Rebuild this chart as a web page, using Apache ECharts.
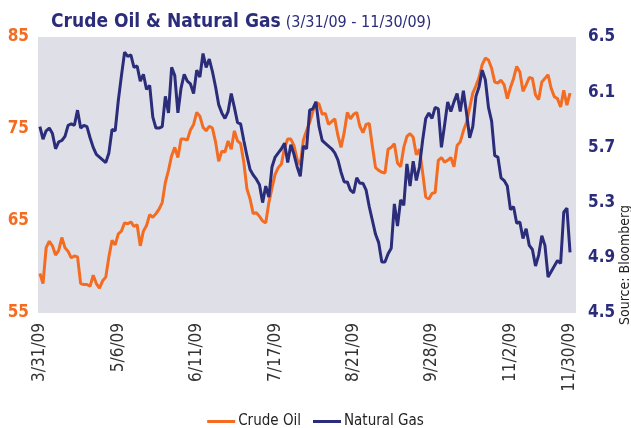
<!DOCTYPE html>
<html>
<head>
<meta charset="utf-8">
<script src="https://cdn.jsdelivr.net/npm/echarts@6/dist/echarts.min.js"></script>
<style>
  html, body { margin: 0; padding: 0; background: #fff; }
  #chart { width: 631px; height: 428px; }
</style>
</head>
<body>
<div id="chart"></div>
<script>
// daily closes, 3/31/09 .. 11/30/09 (trading days)
const crudeOil = [
  59.3, 58.2, 62.1, 62.8, 62.3, 61.3, 61.8, 63.2, 62.1, 61.7,
  61.0, 61.2, 61.1, 58.2, 58.1, 58.1, 57.9, 59.1, 58.2, 57.7,
  58.5, 58.9, 61.1, 62.9, 62.4, 63.6, 63.9, 64.8, 64.7, 64.9,
  64.4, 64.6, 62.3, 63.9, 64.5,
  65.7, 65.4, 65.8, 66.3, 67.0, 69.2, 70.5, 72.1, 73.0, 71.9,
  73.9, 73.9, 73.8, 74.9, 75.5, 76.8, 76.4, 75.2, 74.8, 75.3,
  75.1, 73.6, 71.5, 72.6, 72.5, 73.7, 72.8, 74.8, 73.7, 73.4,
  71.4, 68.5, 67.4, 65.8,
  65.9, 65.5, 65.0, 64.8, 67.0, 68.6, 70.1, 70.8, 71.2, 73.0,
  73.9, 73.9, 73.2, 71.7, 71.1, 73.8, 74.8, 75.7, 76.9, 77.9,
  77.7, 76.6, 76.7, 75.5, 75.8, 76.1, 74.3, 73.0, 74.6, 76.8,
  76.1, 76.6, 76.8, 75.3,
  74.6, 75.5, 75.6, 73.1, 70.8, 70.5, 70.3, 70.2, 72.8, 73.0,
  73.4, 71.3, 70.9, 73.0, 74.2, 74.5, 74.1, 72.2, 72.8, 70.3,
  67.6, 67.4, 68.0, 68.1, 71.6, 71.9, 71.4, 71.6, 71.9, 70.9,
  73.2, 73.6, 74.8, 75.7, 77.3,
  78.9, 79.7, 80.6, 82.0, 82.7, 82.5, 81.6, 80.1, 80.0, 80.3,
  79.8, 78.3, 79.5, 80.5, 81.8, 81.2, 79.1, 79.8, 80.6, 80.5,
  78.7, 78.2, 80.1, 80.5, 80.9, 79.4, 78.5, 78.3, 77.4, 79.2,
  77.6, 78.9
];
const naturalGas = [
  5.85, 5.76, 5.82, 5.84, 5.80, 5.69, 5.74, 5.75, 5.78, 5.86,
  5.87, 5.86, 5.97, 5.84, 5.86, 5.85, 5.77, 5.70, 5.65, 5.63,
  5.61, 5.59, 5.66, 5.83, 5.82, 6.04, 6.22, 6.39, 6.36, 6.37,
  6.28, 6.29, 6.18, 6.23, 6.12,
  6.15, 5.92, 5.84, 5.84, 5.85, 6.07, 5.95, 6.28, 6.22, 5.95,
  6.13, 6.23, 6.18, 6.16, 6.09, 6.26, 6.21, 6.38, 6.28, 6.34,
  6.25, 6.14, 6.01, 5.95, 5.91, 5.96, 6.09, 5.99, 5.88, 5.87,
  5.75, 5.64, 5.54, 5.50,
  5.47, 5.43, 5.30, 5.42, 5.34, 5.56, 5.63, 5.66, 5.69, 5.73,
  5.59, 5.72, 5.65, 5.56, 5.49, 5.71, 5.69, 5.97, 5.98, 6.03,
  5.85, 5.75, 5.73, 5.71, 5.69, 5.66, 5.61, 5.52, 5.45, 5.45,
  5.39, 5.37, 5.48, 5.44,
  5.44, 5.39, 5.27, 5.17, 5.07, 5.01, 4.87, 4.87, 4.93, 4.97,
  5.29, 5.13, 5.32, 5.28, 5.58, 5.42, 5.60, 5.46, 5.56, 5.75,
  5.91, 5.95, 5.91, 5.99, 5.98, 5.70, 5.86, 6.03, 5.96, 6.03,
  6.09, 5.96, 6.11, 5.95, 5.77,
  5.85, 6.07, 6.14, 6.26, 6.19, 5.99, 5.89, 5.64, 5.63, 5.48,
  5.46, 5.42, 5.25, 5.27, 5.15, 5.16, 5.04, 5.11, 4.99, 4.96,
  4.84, 4.92, 5.06, 4.99, 4.76, 4.80, 4.84, 4.88, 4.86, 5.23,
  5.26, 4.94
];
// x tick labels and the trading-day index they sit on
const dateLabels = ['3/31/09', '5/6/09', '6/11/09', '7/17/09', '8/21/09', '9/28/09', '11/2/09', '11/30/09'];
const dateIdx = [0, 25, 50, 75, 100, 125, 150, 169];
const oilTicks = [55, 65, 75, 85];
const gasTicks = [4.5, 4.9, 5.3, 5.7, 6.1, 6.5];

const ORANGE = '#f36c21';
const NAVY = '#2b2c7a';
const FONT = '"Liberation Sans Narrow", "DejaVu Sans Condensed", "Liberation Sans", sans-serif';

const chart = echarts.init(document.getElementById('chart'));
chart.setOption({
  animation: false,
  backgroundColor: '#fff',
  title: {
    left: 46,
    top: 8,
    text: '{a|Crude Oil & Natural Gas} {b|(3/31/09 - 11/30/09)}',
    textStyle: {
      rich: {
        a: { fontFamily: FONT, fontSize: 19, color: NAVY, fontWeight: 'bold' },
        b: { fontFamily: FONT, fontSize: 16, color: NAVY, fontWeight: 'normal', verticalAlign: 'bottom', padding: [0, 0, 1, 0] }
      }
    }
  },
  legend: {
    top: 409,
    left: 'center',
    icon: 'rect',
    itemWidth: 28,
    itemHeight: 3,
    itemGap: 12,
    textStyle: { fontFamily: FONT, fontSize: 15, color: '#222', padding: [0, 0, 0, -2] },
    data: ['Crude Oil', 'Natural Gas']
  },
  grid: {
    left: 38, right: 55, top: 37, bottom: 115,
    show: true, backgroundColor: '#dfe0e7', borderWidth: 0
  },
  xAxis: {
    type: 'value',
    min: -0.6,
    max: 170.9,
    axisLine: { show: false },
    axisTick: { show: false },
    splitLine: { show: false },
    axisLabel: {
      customValues: dateIdx,
      formatter: (v) => dateLabels[dateIdx.indexOf(v)],
      rotate: 90,
      margin: 10,
      fontFamily: FONT,
      fontSize: 17,
      color: '#333'
    }
  },
  yAxis: [
    {
      type: 'value',
      min: 55, max: 85, interval: 10,
      axisLine: { show: false },
      axisTick: { show: false },
      splitLine: { show: false },
      axisLabel: {
        customValues: oilTicks,
        margin: 9,
        fontFamily: FONT, fontSize: 17, fontWeight: 'bold', color: ORANGE
      }
    },
    {
      type: 'value',
      min: 4.5, max: 6.5, interval: 0.4,
      axisLine: { show: false },
      axisTick: { show: false },
      splitLine: { show: false },
      axisLabel: {
        customValues: gasTicks,
        formatter: (v) => v.toFixed(1),
        margin: 12,
        fontFamily: FONT, fontSize: 17, fontWeight: 'bold', color: NAVY
      }
    }
  ],
  graphic: [{
    type: 'text',
    x: 625,
    y: 265,
    rotation: Math.PI / 2,
    style: {
      text: 'Source: Bloomberg',
      font: '14px ' + FONT,
      fill: '#222',
      align: 'center',
      verticalAlign: 'middle'
    }
  }],
  series: [
    {
      name: 'Crude Oil',
      type: 'line',
      yAxisIndex: 0,
      symbol: 'none',
      color: ORANGE,
      lineStyle: { width: 3, color: ORANGE },
      data: crudeOil.map((v, i) => [i, v])
    },
    {
      name: 'Natural Gas',
      type: 'line',
      yAxisIndex: 1,
      symbol: 'none',
      color: NAVY,
      lineStyle: { width: 3, color: NAVY },
      data: naturalGas.map((v, i) => [i, v])
    }
  ]
});
</script>
</body>
</html>
